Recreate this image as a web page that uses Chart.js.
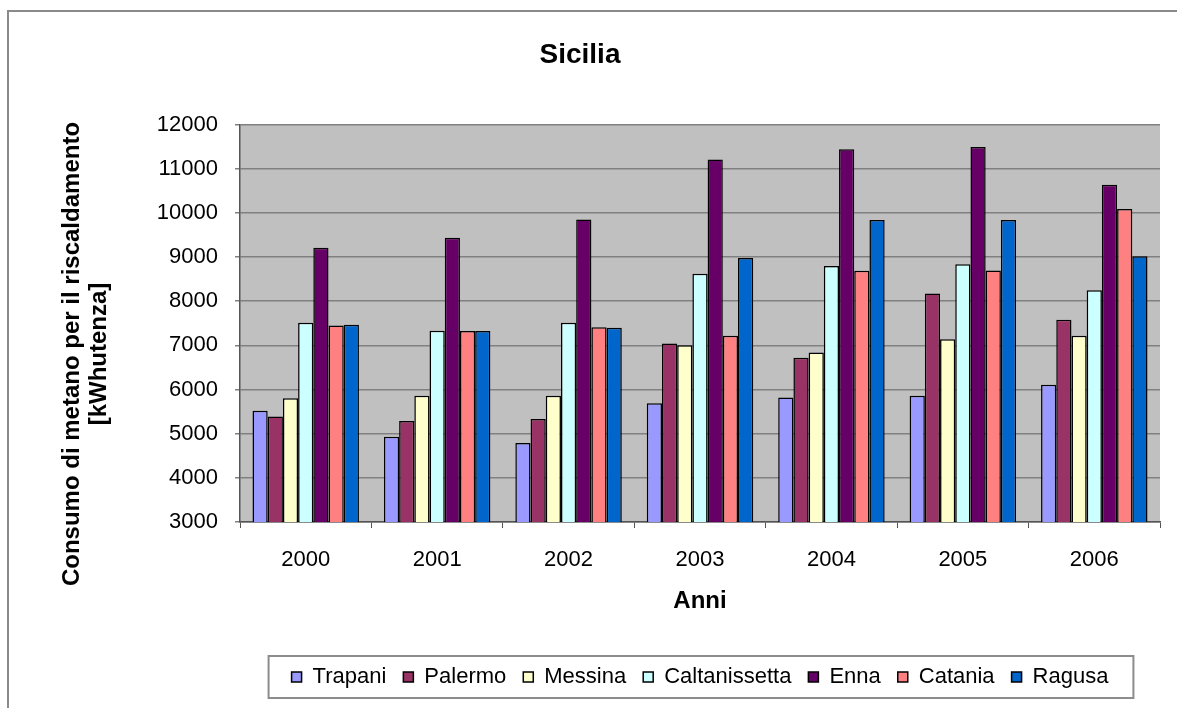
<!DOCTYPE html>
<html>
<head>
<meta charset="utf-8">
<script src="https://cdn.jsdelivr.net/npm/chart.js@4.4.1/dist/chart.umd.min.js"></script>
<style>
  html, body { margin: 0; padding: 0; background: #fff; }
  #wrap { position: relative; width: 1177px; height: 708px; }
  #frame { position: absolute; left: 7px; top: 10px; width: 1180px; height: 710px;
           border-left: 2px solid #8a8a8a; border-top: 2px solid #8a8a8a; }
  canvas { position: absolute; left: 0; top: 0; }
</style>
</head>
<body>
<div id="wrap">
  <div id="frame"></div>
  <canvas id="chart" width="1177" height="708"></canvas>
</div>
<script>
  const years = ['2000', '2001', '2002', '2003', '2004', '2005', '2006'];
  const trapani = [5520, 4930, 4790, 5690, 5820, 5860, 6110];
  const palermo = [5390, 5290, 5330, 7045, 6720, 8175, 7580];
  const messina = [5805, 5860, 5860, 7005, 6840, 7140, 7220];
  const caltanissetta = [7510, 7330, 7510, 8620, 8800, 8840, 8250];
  const enna = [9210, 9440, 9850, 11210, 11440, 11490, 10640];
  const catania = [7450, 7325, 7410, 7220, 8690, 8695, 10090];
  const ragusa = [7465, 7325, 7400, 8980, 9840, 9840, 9020];

  const yTitle = ['Consumo di metano per il riscaldamento', '[kWhutenza]'];
  const FONT = "'Liberation Sans', Arial, sans-serif";

  // gray plot background, Excel style
  const plotBg = {
    id: 'plotBg',
    beforeDraw(chart) {
      const { ctx, chartArea: a } = chart;
      ctx.save();
      ctx.fillStyle = '#c0c0c0';
      ctx.fillRect(a.left, a.top, a.right - a.left, a.bottom - a.top);
      ctx.restore();
    }
  };

  // rotated two-line y title + border round the legend
  const extras = {
    id: 'extras',
    afterDraw(chart) {
      const ctx = chart.ctx;
      ctx.save();
      ctx.translate(72, 354);
      ctx.rotate(-Math.PI / 2);
      ctx.fillStyle = '#000';
      ctx.font = 'bold 24px ' + FONT;
      ctx.textAlign = 'center';
      ctx.textBaseline = 'middle';
      yTitle.forEach((t, i) => ctx.fillText(t, 0, i * 27));
      ctx.restore();

      const boxes = chart.legend.legendHitBoxes;
      if (!boxes || !boxes.length) return;
      const left = Math.min(...boxes.map(b => b.left)) - 23;
      const right = Math.max(...boxes.map(b => b.left + b.width)) + 25;
      const mid = boxes[0].top + boxes[0].height / 2;
      ctx.save();
      ctx.strokeStyle = '#8c8c8c';
      ctx.lineWidth = 2;
      ctx.strokeRect(left, mid - 21, right - left, 42);
      ctx.restore();
    }
  };

  function ds(label, data, color) {
    return { label, data, backgroundColor: color, borderColor: '#000', borderWidth: 1.5, borderSkipped: false };
  }

  new Chart(document.getElementById('chart'), {
    type: 'bar',
    data: {
      labels: years,
      datasets: [
        ds('Trapani', trapani, '#9999ff'),
        ds('Palermo', palermo, '#993366'),
        ds('Messina', messina, '#ffffcc'),
        ds('Caltanissetta', caltanissetta, '#ccffff'),
        ds('Enna', enna, '#660066'),
        ds('Catania', catania, '#ff8080'),
        ds('Ragusa', ragusa, '#0066cc')
      ]
    },
    options: {
      responsive: false,
      animation: false,
      devicePixelRatio: 1,
      layout: { padding: { left: 0, right: 17, top: 0, bottom: 10 } },
      datasets: { bar: { categoryPercentage: 0.81, barPercentage: 1 } },
      plugins: {
        tooltip: { enabled: false },
        title: {
          display: true,
          text: 'Sicilia',
          color: '#000',
          font: { family: FONT, size: 28, weight: 'bold' },
          padding: { top: 38, bottom: 53 }
        },
        legend: {
          position: 'bottom',
          fullSize: false,
          labels: {
            color: '#000',
            font: { family: FONT, size: 22 },
            boxWidth: 10,
            boxHeight: 10,
            padding: 17
          }
        }
      },
      scales: {
        x: {
          afterFit(scale) { scale.height = 127; },
          grid: { drawOnChartArea: false, drawTicks: true, tickLength: 6, color: '#555', offset: true },
          border: { color: '#555', width: 1.5 },
          ticks: { color: '#000', font: { family: FONT, size: 22 }, padding: 19 },
          title: {
            display: true,
            text: 'Anni',
            color: '#000',
            font: { family: FONT, size: 24, weight: 'bold' },
            padding: { top: 0, bottom: 33 }
          }
        },
        y: {
          min: 3000,
          max: 12000,
          afterFit(scale) { scale.width = 240; },
          grid: { color: '#808080', lineWidth: 1.5, tickLength: 5 },
          border: { color: '#555', width: 1.5 },
          ticks: {
            stepSize: 1000,
            color: '#000',
            font: { family: FONT, size: 22 },
            padding: 17,
            callback: v => String(v)
          }
        }
      }
    },
    plugins: [plotBg, extras]
  });
</script>
</body>
</html>
